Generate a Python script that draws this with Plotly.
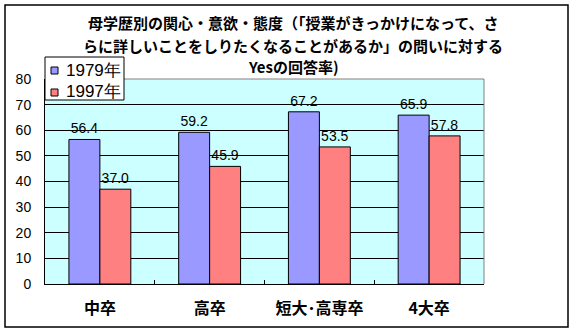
import plotly.graph_objects as go

categories = ["中卒", "高卒", "短大･高専卒", "4大卒"]
series_names = ["1979年", "1997年"]
values_1979 = [56.4, 59.2, 67.2, 65.9]
values_1997 = [37.0, 45.9, 53.5, 57.8]
colors = ["#9999FF", "#FF8080"]
y_ticks = [0, 10, 20, 30, 40, 50, 60, 70, 80]
title_lines = [
    "母学歴別の関心・意欲・態度（「授業がきっかけになって、さ",
    "らに詳しいことをしりたくなることがあるか」の問いに対する",
    "Yesの回答率)",
]

W, H = 576, 333
L, R, T, B = 45, 484, 79, 284  # plot area pixel edges


def px(x):
    return (x - L) / (R - L)


def py(y):
    return (B - y) / (B - T)


fig = go.Figure()
for name, vals, col in zip(series_names, [values_1979, values_1997], colors):
    fig.add_trace(go.Bar(
        x=categories, y=vals, name=name,
        marker=dict(color=col, line=dict(color="black", width=1)),
        texttemplate="%{y:.1f}", textposition="outside",
        textfont=dict(family="Liberation Sans, Arial", size=14, color="black"),
        cliponaxis=False, showlegend=False,
    ))

fig.update_layout(
    width=W, height=H,
    margin=dict(l=L, r=W - R, t=T, b=H - B, pad=0),
    paper_bgcolor="white",
    plot_bgcolor="#CCFFFF",
    barmode="group",
    bargap=0.436,
    bargroupgap=0,
    showlegend=False,
    font=dict(family="Liberation Sans, Arial", color="black"),
)

fig.update_xaxes(
    type="category",
    showline=True, linecolor="black", linewidth=1,
    ticks="inside", tickson="boundaries", ticklen=4, tickcolor="black",
    tickfont=dict(family="Noto Sans CJK JP", size=16, color="black", weight="bold"),
    ticklabelstandoff=10,
    showgrid=False,
)
fig.update_yaxes(
    range=[0, 80], tickvals=y_ticks,
    showline=True, linecolor="black", linewidth=1,
    showgrid=True, gridcolor="black", gridwidth=1,
    ticks="", ticklabelstandoff=10,
    tickfont=dict(family="Liberation Sans, Arial", size=14, color="black"),
    zeroline=False,
)

# gray top/right border of the plot area
fig.add_shape(type="line", xref="paper", yref="paper", x0=0, x1=1, y0=1, y1=1,
              line=dict(color="#808080", width=1))
fig.add_shape(type="line", xref="paper", yref="paper", x0=1, x1=1, y0=0, y1=1,
              line=dict(color="#808080", width=1))
# outer chart border
fig.add_shape(type="rect", xref="paper", yref="paper",
              x0=px(5), x1=px(568), y0=py(327), y1=py(5),
              line=dict(color="black", width=1.5), fillcolor="rgba(0,0,0,0)")

# legend (box, swatches, labels)
fig.add_shape(type="rect", xref="paper", yref="paper",
              x0=px(45), x1=px(124), y0=py(100), y1=py(57),
              line=dict(color="black", width=1), fillcolor="white")
row_y = [70, 92]
for name, col, ry in zip(series_names, colors, row_y):
    fig.add_shape(type="rect", xref="paper", yref="paper",
                  x0=px(51), x1=px(58), y0=py(ry + 4), y1=py(ry - 3),
                  line=dict(color="black", width=1), fillcolor=col)
    fig.add_annotation(text=name, xref="paper", yref="paper",
                       x=px(64), y=py(ry), xanchor="left", yanchor="middle",
                       showarrow=False,
                       font=dict(family="Liberation Sans, Arial", size=17, color="black"))

for line, ly in zip(title_lines, [23, 45, 67]):
    fig.add_annotation(
        text=line, xref="paper", yref="paper",
        x=px(293), y=py(ly), xanchor="center", yanchor="middle",
        showarrow=False,
        font=dict(family="Noto Sans CJK JP", size=15, color="black", weight="bold"),
    )

fig.write_html("out.html")
